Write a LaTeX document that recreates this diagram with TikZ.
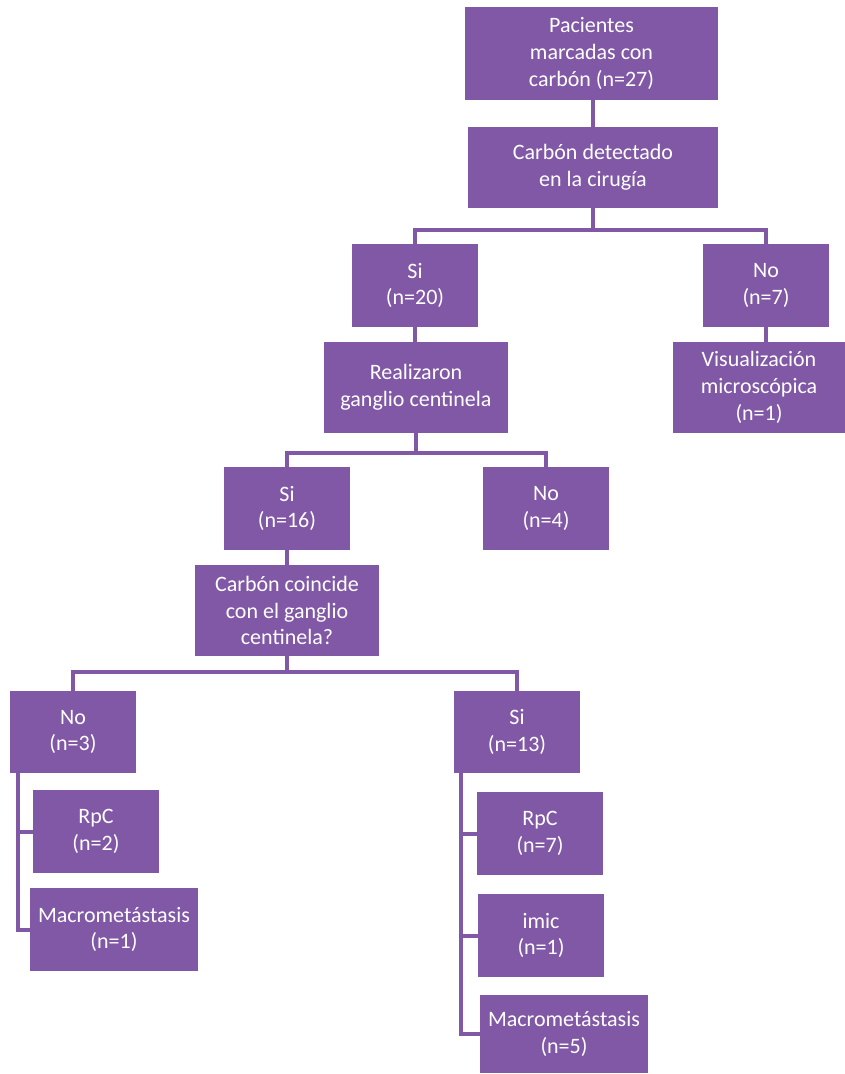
\documentclass[tikz,border=0pt]{standalone}
\usepackage{fontspec}
\setmainfont{Carlito}
\definecolor{purp}{RGB}{129,88,165}
\begin{document}
\begin{tikzpicture}[x=1pt,y=-1pt,
  box/.style={fill=purp,draw=none,text=white,align=center,inner sep=0pt,
    font=\fontsize{22}{26.7}\selectfont},
  conn/.style={draw=purp,line width=4pt,line join=miter}]
\useasboundingbox (0,0) rectangle (845,1074);
\node[box,minimum width=253,minimum height=93] (p) at (591.5,53.5) {Pacientes\\marcadas con\\carbón (n=27)};
\node[box,minimum width=250,minimum height=81] (c) at (593,167.5) {Carbón detectado\\en la cirugía};
\node[box,minimum width=126,minimum height=83] (si20) at (415,285.5) {Si\\(n=20)};
\node[box,minimum width=126,minimum height=83] (no7) at (766,285.5) {No\\(n=7)};
\node[box,minimum width=184,minimum height=91] (real) at (416,387.5) {Realizaron\\ganglio centinela};
\node[box,minimum width=172,minimum height=91] (vis) at (759,387.5) {Visualización\\microscópica\\(n=1)};
\node[box,minimum width=126,minimum height=83] (si16) at (287,508.5) {Si\\(n=16)};
\node[box,minimum width=126,minimum height=83] (no4) at (546,508.5) {No\\(n=4)};
\node[box,minimum width=184,minimum height=91] (coin) at (287,610.5) {Carbón coincide\\con el ganglio\\centinela?};
\node[box,minimum width=126,minimum height=82] (no3) at (73,732) {No\\(n=3)};
\node[box,minimum width=126,minimum height=82] (si13) at (517,732) {Si\\(n=13)};
\node[box,minimum width=126,minimum height=83] (rpc2) at (96,831.5) {RpC\\(n=2)};
\node[box,minimum width=168,minimum height=83] (mac1) at (114,929.5) {Macrometástasis\\(n=1)};
\node[box,minimum width=126,minimum height=83] (rpc7) at (540,833.5) {RpC\\(n=7)};
\node[box,minimum width=126,minimum height=83] (imic) at (541,935.5) {imic\\(n=1)};
\node[box,minimum width=168,minimum height=78] (mac5) at (564,1034) {Macrometástasis\\(n=5)};
\coordinate (b1) at (0,230);
\coordinate (b2) at (0,453);
\coordinate (b3) at (0,672);
\coordinate (tl) at (18,0);
\coordinate (tr) at (461,0);
\draw[conn] (c.north) -- (c.north |- p.south);
\draw[conn] (c.south) -- (c.south |- b1) -| (si20.north);
\draw[conn] (c.south |- b1) -| (no7.north);
\draw[conn] (si20.south) -- (si20.south |- real.north);
\draw[conn] (no7.south) -- (no7.south |- vis.north);
\draw[conn] (real.south) -- (real.south |- b2) -| (si16.north);
\draw[conn] (real.south |- b2) -| (no4.north);
\draw[conn] (si16.south) -- (si16.south |- coin.north);
\draw[conn] (coin.south) -- (coin.south |- b3) -| (no3.north);
\draw[conn] (coin.south |- b3) -| (si13.north);
\draw[conn] (tl |- no3.south) |- (rpc2.west);
\draw[conn] (tl |- no3.south) |- (mac1.west);
\draw[conn] (tr |- si13.south) |- (rpc7.west);
\draw[conn] (tr |- si13.south) |- (imic.west);
\draw[conn] (tr |- si13.south) |- (mac5.west);
\end{tikzpicture}
\end{document}
